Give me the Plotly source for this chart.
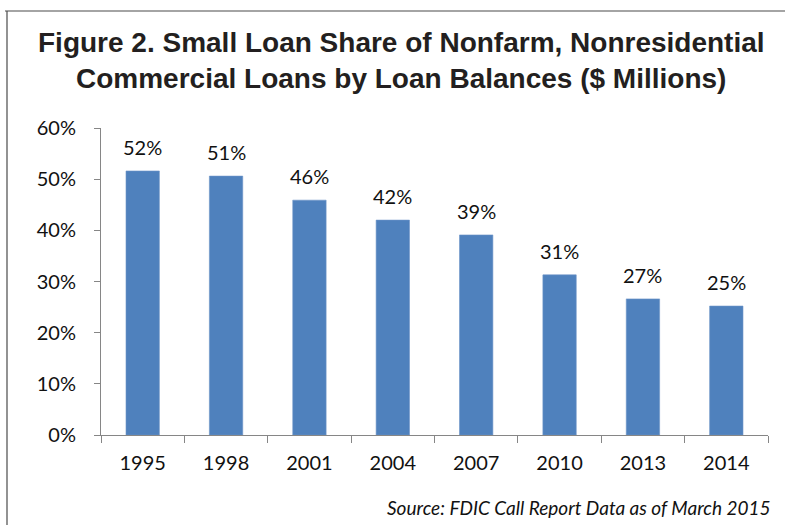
import plotly.graph_objects as go

years = ["1995", "1998", "2001", "2004", "2007", "2010", "2013", "2014"]
shares = [51.6, 50.6, 45.9, 42.0, 39.1, 31.3, 26.6, 25.2]
y_ticks = [0, 10, 20, 30, 40, 50, 60]
y_tick_labels = [f"{v}%" for v in y_ticks]

title_line1 = "Figure 2. Small Loan Share of Nonfarm, Nonresidential"
title_line2 = "Commercial Loans by Loan Balances ($ Millions)"
source_text = "Source: FDIC Call Report Data as of March 2015"

BAR_COLOR = "#4F81BD"
AXIS_COLOR = "#868686"
BODY_FONT = "Lato, 'Open Sans', sans-serif"
TITLE_FONT = "'Liberation Sans', Arial, sans-serif"

W, H = 785, 525
L, R, T, B = 101, 17, 128, 90
pw, ph = W - L - R, H - T - B

def px_x(px):
    return (px - L) / pw

def px_y(py):
    return (H - B - py) / ph

fig = go.Figure()
fig.add_trace(go.Bar(
    x=years, y=shares,
    marker=dict(color=BAR_COLOR, line=dict(color="#6C94C8", width=0.6)),
    hoverinfo="skip",
))

for i, v in enumerate(shares):
    fig.add_annotation(
        x=i, y=v, xref="x", yref="y",
        text=f"{round(v)}%", showarrow=False,
        yanchor="bottom", yshift=10,
        font=dict(family=BODY_FONT, size=20, color="#111111"),
    )

# titles
fig.add_annotation(
    x=px_x(401), y=px_y(42), xref="paper", yref="paper",
    text=f"<b>{title_line1}</b>", showarrow=False,
    xanchor="center", yanchor="middle",
    font=dict(family=TITLE_FONT, size=28, color="#231F20"),
)
fig.add_annotation(
    x=px_x(401), y=px_y(79), xref="paper", yref="paper",
    text=f"<b>{title_line2}</b>", showarrow=False,
    xanchor="center", yanchor="middle",
    font=dict(family=TITLE_FONT, size=28, color="#231F20"),
)
fig.add_annotation(
    x=px_x(773), y=px_y(507), xref="paper", yref="paper",
    text=f"<i>{source_text}</i>", showarrow=False,
    xanchor="right", yanchor="middle",
    font=dict(family=BODY_FONT, size=19, color="#111111"),
)

# frame lines (top and left)
fig.add_shape(type="line", xref="paper", yref="paper",
              x0=px_x(5), x1=px_x(785), y0=px_y(11), y1=px_y(11),
              line=dict(color="#4A4A4A", width=1.2))
fig.add_shape(type="line", xref="paper", yref="paper",
              x0=px_x(7), x1=px_x(7), y0=px_y(11), y1=px_y(525),
              line=dict(color="#4A4A4A", width=1.2))

fig.update_layout(
    width=W, height=H,
    margin=dict(l=L, r=R, t=T, b=B, pad=0),
    paper_bgcolor="white", plot_bgcolor="white",
    bargap=0.6, showlegend=False,
    font=dict(family=BODY_FONT, size=20, color="#111111"),
)
fig.update_xaxes(
    type="category", range=[-0.5, len(years) - 0.5], autorange=False,
    automargin=False, tickangle=0,
    showline=True, linecolor=AXIS_COLOR, linewidth=1,
    ticks="outside", tickson="boundaries", ticklen=7, tickcolor=AXIS_COLOR,
    showgrid=False, ticklabelstandoff=10,
    tickfont=dict(family=BODY_FONT, size=20, color="#111111"),
)
fig.update_yaxes(
    range=[0, 60], autorange=False, automargin=False,
    tickvals=y_ticks, ticktext=y_tick_labels,
    showline=True, linecolor=AXIS_COLOR, linewidth=1,
    ticks="outside", ticklen=6, tickcolor=AXIS_COLOR,
    showgrid=False, zeroline=False, ticklabelstandoff=14,
    tickfont=dict(family=BODY_FONT, size=20, color="#111111"),
)

fig.write_html(
    "out.html",
    config={"displayModeBar": False},
    post_script="document.body.style.margin='0';document.body.style.overflow='hidden';",
)
